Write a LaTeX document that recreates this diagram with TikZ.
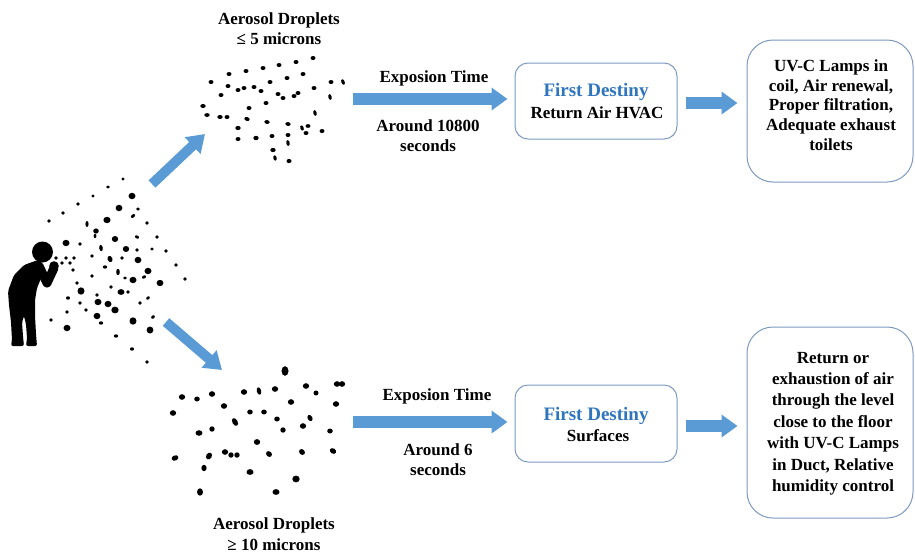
\documentclass[tikz,border=0pt]{standalone}
\usepackage{fontspec}
\setmainfont{Liberation Serif}
\usetikzlibrary{arrows.meta}
\definecolor{arrowblue}{RGB}{91,155,213}
\definecolor{boxedge}{RGB}{126,154,192}
\definecolor{titleblue}{RGB}{46,117,190}

\begin{document}
\begin{tikzpicture}[x=1pt,y=-1pt,
  lbl/.style={font=\fontsize{17}{20}\selectfont\bfseries, align=center, inner sep=0pt},
  titletxt/.style={font=\fontsize{19}{21}\selectfont\bfseries, text=titleblue, inner sep=0pt},
  stagebox/.style={draw=boxedge, line width=1pt, inner sep=0pt},
  blockarrow/.style={draw=arrowblue, line width=12pt,
    -{Triangle[length=16pt,width=22pt]}},
  diagarrow/.style={draw=arrowblue, line width=10pt,
    -{Triangle[length=17pt,width=22pt]}}
]
\useasboundingbox (0,0) rectangle (915,552);

% ---------- person sneezing ----------
\fill (42.5,252) circle (10.5);
\fill[rounded corners=2pt]
  (38,260) -- (24,265) -- (14,275) -- (8,291) -- (9,305) -- (11,322)
  -- (12,340) -- (11,346) -- (24,346) -- (23,336) -- (22,322) -- (24,316)
  -- (26,324) -- (27,338) -- (26,346) -- (37,346) -- (36,334) -- (35,316)
  -- (35,300) -- (37,288) -- (42,276) -- (44,265) -- cycle;
\draw[line width=9pt, line cap=round, line join=round] (39,266) -- (47,283) -- (54,268);
\fill (54,266) circle (4.8);

% ---------- droplet cloud in front of the person ----------
\foreach \x/\y/\a/\b/\r in {
  123/179/1.7/1.7/0, 108/187/1.8/1.7/0, 132/196/3.5/3.2/0, 93/196/1.7/1.7/0,
  78/204/1.8/1.8/0, 119/208/3.4/3.2/0, 138/209/1.9/1.7/0, 63/213/1.9/1.8/0,
  133/216/2.4/1.6/40, 107/220/3.6/3.2/0, 49/221/1.9/1.8/0, 87/224/1.6/3/0,
  147/223/1.9/1.8/0, 96/231/2.8/2.6/0, 95/236/1.4/2.2/0, 137/237/2.2/1.5/-30,
  115/239/3.2/3/0, 157/237/1.8/1.8/0, 66/243/3.5/3.2/0, 80/244/1.8/1.8/0,
  101/248/1.8/3.2/10, 126/249/3.2/3/0, 137/250/1.8/1.8/0, 166/251/1.8/1.8/0,
  152/249/1.8/1.6/0, 56/258/1.9/1.8/0, 66/258/1.9/1.8/0, 74/258/1.9/1.8/0,
  62/263/1.9/1.8/0, 70/263/1.9/1.8/0, 73/270/1.9/1.8/0,
  92/256/1.8/1.8/0, 110/259/2.4/3.2/20, 138/260/3.4/3.2/0, 122/258/1.8/1.8/0,
  176/265/1.8/1.8/0, 105/267/2.2/1.7/0, 118/272/1.8/3.2/0, 148/271/3.5/3.2/0,
  92/276/1.8/1.8/0, 133/280/3.5/3.2/0, 125/278/1.8/1.7/0,
  144/277/2.2/1.5/30, 160/283/3.4/3.2/0, 185/279/1.8/1.8/0, 77/283/1.8/1.8/0,
  111/287/1.8/1.8/0, 81/291/3.5/3.7/0, 121/292/3.5/2.9/0, 128/292/1.8/1.8/0,
  68/298/2/1.7/0, 97/295/1.8/1.8/0, 148/298/2/1.5/40, 98/302/3.5/3.2/0,
  108/304/3.5/3.2/0, 80/303/1.8/1.8/0, 67/312/1.8/1.8/0, 115/310/3.7/3.4/0,
  140/303/1.8/1.8/0, 86/310/1.8/1.8/0, 97/316/3.4/3.2/0, 101/323/2.2/1.7/0,
  133/321/3.5/3.7/0, 153/317/2/1.6/40, 51/320/1.8/1.8/0, 67/328/3.5/3.2/0,
  150/330/3.4/3.5/0, 116/336/2.2/1.7/0, 132/349/2/1.7/0, 147/362/1.8/1.8/0}
  \fill[rotate around={\r:(\x,\y)}] (\x,\y) ellipse [x radius=\a, y radius=\b];

% ---------- small aerosol droplets ----------
\foreach \x/\y/\a/\b/\r in {
  313/58/2.5/2/0, 296/62/2.5/2/0, 279/65/2.5/2/0, 263/68/2.5/2/0,
  246/71/2.5/2/0, 229/74/2.5/2/0, 303/74/2.5/2/0, 287/78/2.5/2/0,
  270/82/2.5/2/0, 211/82/2.5/2/0, 228/86/2.5/2/0, 238/90/2.5/2/0,
  244/88/2.5/2/0, 254/87/2.5/2/0, 261/91/2.5/2/0, 278/94/2.5/2/0,
  283/98/2.5/2/0, 294/96/2.5/2/0, 298/93/2.5/2/0, 314/88/2.5/2/0,
  331/82/2.5/2/0, 343/82/1.7/2.9/20, 221/95/2.5/2/0, 330/97/1.7/2.9/15,
  266/103/2.5/2/0, 203/106/2.7/2/0, 207/115/2.7/1.9/0, 220/117/2.7/2/0,
  227/117/2.5/2/0, 249/108/2.5/2/0, 247/119/2.7/1.9/-15, 315/113/1.7/2.9/15,
  267/122/2.7/1.9/-10, 288/124/2.7/1.9/-10, 238/128/2.7/2.1/0, 302/128/1.7/2.7/20,
  308/126/2.5/1.9/0, 306/133/2.5/2/0, 322/131/2.5/2/0, 272/136/2.5/2/0,
  288/135/2.5/2/0, 238/139/2.5/2/0, 256/138/2.7/2.2/0, 288/143/1.7/2.9/10,
  273/150/2.7/2.1/0, 275/158/1.7/2.7/10, 289/161/2.5/2.1/0}
  \fill[rotate around={\r:(\x,\y)}] (\x,\y) ellipse [x radius=\a, y radius=\b];

% ---------- large aerosol droplets ----------
\foreach \x/\y/\a/\b/\r in {
  285/371/3.5/4.8/0, 182/397/3.2/2.8/0, 197/399/2.8/2.5/0, 212/394/3.2/2.8/0,
  244/392/3.2/2.8/0, 259/391/2.2/3.8/15, 275/389/3.2/2.8/0, 306/386/3.2/2.8/0,
  316/393/2.5/2.5/0, 337/384/3.2/2.8/0, 342/384/3.2/2.8/0, 224/406/3.2/2.8/0,
  291/402/3.2/2.8/0, 336/404/3.2/2.8/0, 173/413/3.2/2.8/0, 250/412/2.8/2.5/0,
  264/412/2.8/2.5/0, 277/419/2.8/2.5/0, 310/418/2.4/3.2/30, 303/426/3.2/2.8/0,
  235/422/2.6/4.2/30, 212/429/2.7/2.7/0, 199/433/3.5/2.8/0, 283/430/2.7/2.7/0,
  330/431/2.8/2.5/0, 257/442/3.2/2.9/0, 175/458/3.5/2.6/20, 209/456/2.8/3.7/-30,
  225/452/3.2/2.8/0, 231/455/2.7/2.7/0, 237/455/2.7/2.7/0, 269/454/2.6/3.2/45,
  302/452/2.7/3.2/45, 333/451/2.6/3.4/60, 204/468/2.6/3.2/0, 250/472/3.5/2.9/0,
  296/479/3.7/3.4/0, 200/492/3/3.7/0, 276/492/3.5/2.9/0}
  \fill[rotate around={\r:(\x,\y)}] (\x,\y) ellipse [x radius=\a, y radius=\b];

% ---------- labels of the two droplet groups ----------
% (the base anchor of a multi-line node sits on its last line)
\node[lbl, anchor=base] (smalllbl) at (279,44) {Aerosol Droplets\\≤ 5 microns};
\node[lbl, anchor=base, font=\fontsize{17}{21}\selectfont\bfseries] (largelbl) at (274,550) {Aerosol Droplets\\≥ 10 microns};

% ---------- arrows from the person ----------
\coordinate (cloudup) at (152,184);
\coordinate (smallset) at (205,134);
\coordinate (clouddown) at (166,322);
\coordinate (largeset) at (222,370);
\draw[diagarrow] (cloudup) -- (smallset);
\draw[diagarrow] (clouddown) -- (largeset);

% ---------- destination boxes ----------
\node[stagebox, rounded corners=13pt, minimum width=162pt, minimum height=76pt] (b1) at (596,101) {};
\node[stagebox, rounded corners=26pt, minimum width=166pt, minimum height=142pt] (b2) at (830,111) {};
\node[stagebox, rounded corners=13pt, minimum width=162pt, minimum height=77pt] (b3) at (596,423.5) {};
\node[stagebox, rounded corners=26pt, minimum width=166pt, minimum height=191pt] (b4) at (830,422.5) {};

\node[titletxt, anchor=base] (b1title) at (596,96.5) {First Destiny};
\node[lbl, anchor=base] (b1sub) at (597,118) {Return Air HVAC};
\node[titletxt, anchor=base] (b3title) at (596,420) {First Destiny};
\node[lbl, anchor=base] (b3sub) at (598,441.5) {Surfaces};

\node[lbl, anchor=base, font=\fontsize{17}{19.6}\selectfont\bfseries] (b2txt) at (831,150)
  {UV-C Lamps in\\coil, Air renewal,\\Proper filtration,\\Adequate exhaust\\toilets};
\node[lbl, anchor=base, font=\fontsize{17}{21.4}\selectfont\bfseries] (b4txt) at (833,491.5)
  {Return or\\exhaustion of air\\through the level\\close to the floor\\with UV-C Lamps\\in Duct, Relative\\humidity control};

% ---------- exposure-time arrows ----------
\coordinate (topstart) at (353,99);
\coordinate (botstart) at (353,422);
\draw[blockarrow] (topstart) -- ([xshift=-7pt]topstart -| b1.west);
\draw[blockarrow] (botstart) -- ([xshift=-7pt]botstart -| b3.west);
\node[lbl, anchor=base] (toptime) at (434,82) {Exposion Time};
\node[lbl, anchor=base] (topdur) at (428,151.7) {Around 10800\\seconds};
\node[lbl, anchor=base] (bottime) at (437,400.7) {Exposion Time};
\node[lbl, anchor=base] (botdur) at (438,475) {Around 6\\seconds};

% ---------- arrows to the control measures ----------
\draw[blockarrow] ([xshift=8pt,yshift=-2pt]b1.east) -- ([xshift=-9pt,yshift=-2pt]b1.east -| b2.west);
\draw[blockarrow] ([xshift=8pt,yshift=-2.5pt]b3.east) -- ([xshift=-9pt,yshift=-2.5pt]b3.east -| b4.west);
\end{tikzpicture}
\end{document}
